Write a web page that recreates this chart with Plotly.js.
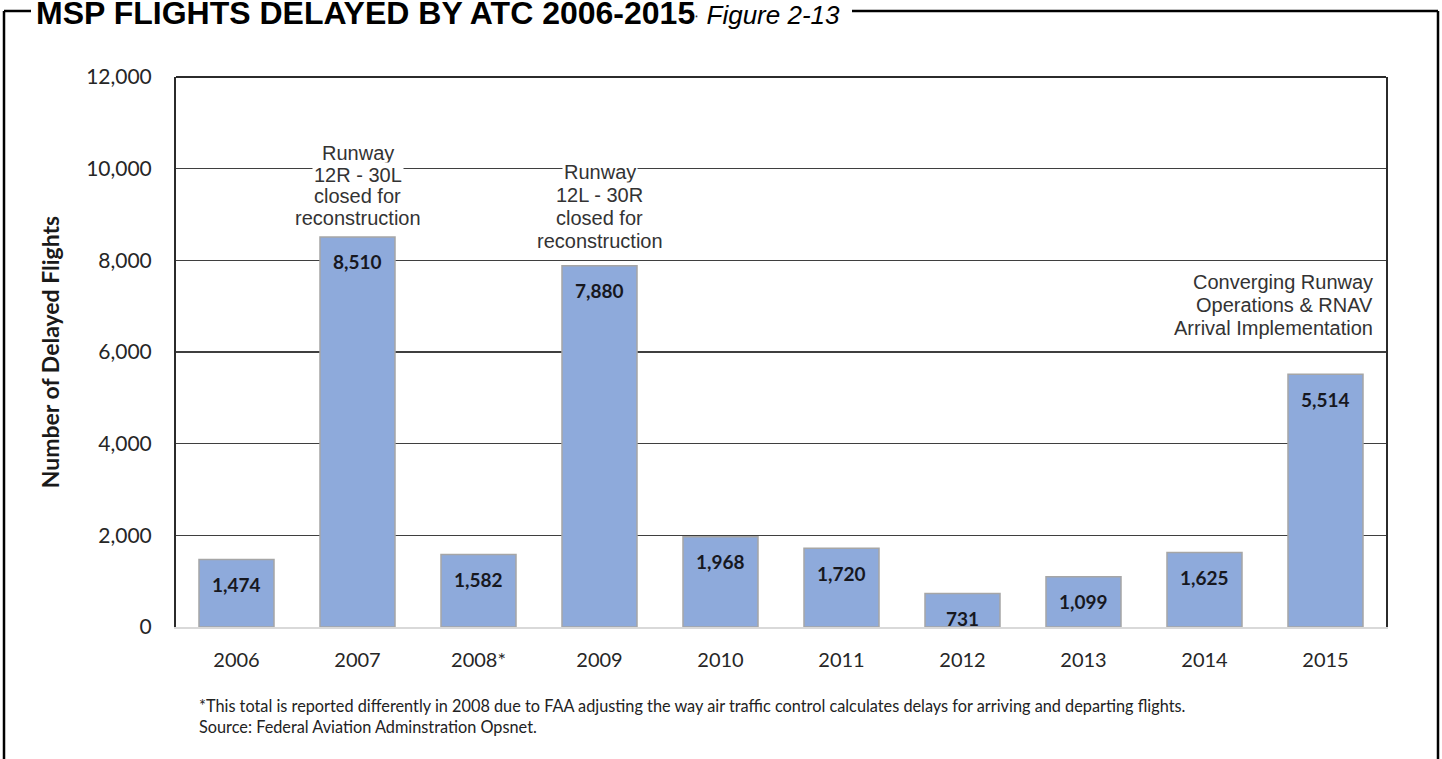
<!DOCTYPE html>
<html><head><meta charset="utf-8">
<script src="https://cdn.plot.ly/plotly-3.0.1.min.js"></script>
<style>html,body{margin:0;padding:0;background:#fff;overflow:hidden}#chart{width:1442px;height:759px}</style>
</head><body><div id="chart"></div>
<script>
// ---- data ----
const years = ['2006','2007','2008*','2009','2010','2011','2012','2013','2014','2015'];
const delayedFlights = [1474,8510,1582,7880,1968,1720,731,1099,1625,5514];
const yTickValues = [0,2000,4000,6000,8000,10000,12000];
const yTickLabels = ['0','2,000','4,000','6,000','8,000','10,000','12,000'];
const note2007 = ['Runway','12R - 30L','closed for','reconstruction'];
const note2009 = ['Runway','12L - 30R','closed for','reconstruction'];
const note2015 = ['Converging Runway','Operations & RNAV','Arrival Implementation'];
const footnotes = [
  '*This total is reported differently in 2008 due to FAA adjusting the way air traffic control calculates delays for arriving and departing flights.',
  'Source: Federal Aviation Adminstration Opsnet.'
];

// ---- layout helpers (pixel -> paper) ----
const M = {l:176, r:56, t:77, b:132};
const W = 1442, H = 759;
const PW = W - M.l - M.r, PH = H - M.t - M.b;
const px = x => (x - M.l) / PW;
const py = y => (H - M.b - y) / PH;

const annotations = [];
// value labels inside bars (x given as category index)
years.forEach((yr, i) => {
  annotations.push({
    x: i, y: delayedFlights[i], xref:'x', yref:'y',
    text: delayedFlights[i].toLocaleString('en-US'),
    showarrow:false, yanchor:'middle', yshift:-25,
    font:{family:'Lato, sans-serif', size:19, color:'#17181f', weight:'bold'}
  });
});
function stackNote(lines, cat, base, step, opts) {
  const idx = years.indexOf(cat);
  lines.forEach((t, k) => {
    const fromBottom = lines.length - 1 - k;
    annotations.push(Object.assign({
      x: idx, y: delayedFlights[idx], xref:'x', yref:'y',
      text: t, showarrow:false, yanchor:'middle',
      yshift: base + fromBottom * step,
      bgcolor:'#ffffff', borderpad:1,
      font:{family:'Liberation Sans, Arial, sans-serif', size:20, color:'#333333'}
    }, opts || {}));
  });
}
stackNote(note2007, '2007', 19, 21.7);
stackNote(note2009, '2009', 25, 23);
stackNote(note2015, '2015', 46, 23, {xanchor:'right', xshift:49, align:'right', bgcolor:'rgba(0,0,0,0)'});

footnotes.forEach((t, k) => {
  annotations.push({
    xref:'paper', yref:'paper', x: px(197), y: py(705 + k*21),
    xanchor:'left', yanchor:'middle', showarrow:false, text:t,
    font:{family:'Lato, sans-serif', size:16.3, color:'#222222'}
  });
});

const frame = {color:'#000000', width:2.5};
const shapes = [
  {type:'line', xref:'paper', yref:'paper', x0:0, x1:1, y0:1, y1:1, line:{color:'#2b2b2b', width:2}},
  {type:'line', xref:'paper', yref:'paper', x0:px(4), x1:px(4), y0:py(11), y1:py(770), line:frame},
  {type:'line', xref:'paper', yref:'paper', x0:px(1438), x1:px(1438), y0:py(11), y1:py(770), line:frame},
  {type:'line', xref:'paper', yref:'paper', x0:px(4), x1:px(31), y0:py(11), y1:py(11), line:frame},
  {type:'line', xref:'paper', yref:'paper', x0:px(852), x1:px(1438), y0:py(11), y1:py(11), line:frame}
];

const trace = {
  type:'bar', x: years, y: delayedFlights,
  marker:{color:'#8eaadb', line:{color:'#a6a6a6', width:1.5}},
  hoverinfo:'x+y'
};

const layout = {
  width:W, height:H,
  margin:M,
  paper_bgcolor:'#ffffff', plot_bgcolor:'#ffffff',
  showlegend:false,
  bargap:0.38,
  title:{
    text:'<b>MSP FLIGHTS DELAYED BY ATC 2006-2015</b><span style="font-size:9px"><sup>*</sup></span> <i><span style="font-size:26px">Figure 2-13</span></i>',
    xref:'container', yref:'container', x:36/W, xanchor:'left', y:1-13/H, yanchor:'middle',
    pad:{t:0,b:0,l:0,r:0},
    font:{family:'Liberation Sans, Arial, sans-serif', size:32, color:'#000000'}
  },
  xaxis:{
    type:'category', range:[-0.5, years.length-0.5], autorange:false,
    showgrid:false, zeroline:false,
    showline:true, linecolor:'#d9d9d9', linewidth:2,
    ticks:'', ticklabelstandoff:14,
    tickfont:{family:'Lato, sans-serif', size:20, color:'#262626'}
  },
  yaxis:{
    range:[0,12000], autorange:false, tickvals:yTickValues, ticktext:yTickLabels,
    showgrid:true, gridcolor:'#3f3f3f', gridwidth:1.5,
    zeroline:false, showline:true, linecolor:'#2b2b2b', linewidth:2, mirror:true,
    ticks:'', ticklabelstandoff:18,
    tickfont:{family:'Lato, sans-serif', size:21, color:'#262626'},
    title:{text:'<b>Number of Delayed Flights</b>', standoff:20,
      font:{family:'Lato, sans-serif', size:23, color:'#1a1a1a'}}
  },
  annotations, shapes
};

Plotly.newPlot('chart', [trace], layout, {displayModeBar:false, staticPlot:true});
</script>
</body></html>
